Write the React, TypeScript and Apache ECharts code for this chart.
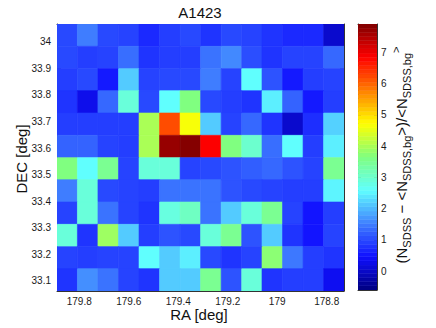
import React, { useEffect, useRef } from "react";
import * as echarts from "echarts";

// RA bin centres (deg), left to right in the plot (RA decreases to the right)
const raCenters = [179.849, 179.766, 179.683, 179.6, 179.517, 179.434, 179.351, 179.268, 179.185, 179.102, 179.02, 178.937, 178.854, 178.771];
// DEC bin centres (deg), top to bottom
const decCenters = [34.025, 33.941, 33.857, 33.774, 33.69, 33.606, 33.522, 33.439, 33.355, 33.271, 33.187, 33.104];

// (N_SDSS - <N_bg>)/<N_bg>, one row per DEC bin (top to bottom)
const overdensity: number[][] = [
  [1.0, 1.5, 1.0, 0.95, 0.7, 0.9, 1.0, 0.8, 1.0, 0.95, 0.8, 0.7, 0.7, 0.05],
  [1.0, 0.9, 0.95, 1.35, 0.8, 0.9, 0.9, 1.4, 1.6, 1.05, 0.8, 0.95, 0.95, 1.3],
  [0.9, 1.0, 0.55, 2.15, 0.95, 1.0, 1.0, 1.5, 0.95, 2.6, 1.1, 0.55, 0.9, 0.95],
  [0.8, 0.3, 1.3, 2.9, 1.0, 2.6, 3.65, 1.0, 0.9, 0.8, 2.45, 1.25, 0.55, 0.9],
  [0.9, 0.9, 0.9, 0.9, 4.0, 6.2, 4.65, 2.15, 0.95, 1.3, 0.8, 0.05, 0.75, 2.2],
  [1.25, 1.25, 0.95, 0.9, 4.0, 7.7, 7.85, 6.85, 3.65, 3.0, 1.35, 2.6, 0.9, 2.45],
  [3.65, 2.6, 3.5, 0.95, 2.9, 2.9, 0.95, 1.0, 1.1, 1.2, 1.3, 1.1, 0.95, 3.5],
  [1.5, 2.9, 1.0, 0.95, 0.9, 1.4, 1.4, 1.4, 1.1, 1.0, 0.95, 0.9, 0.9, 2.5],
  [0.95, 2.9, 1.4, 0.95, 0.8, 2.85, 3.1, 1.4, 2.15, 2.9, 3.5, 0.95, 0.5, 0.9],
  [2.9, 0.8, 3.9, 2.15, 0.9, 1.1, 1.0, 2.9, 3.5, 1.1, 2.15, 0.8, 0.5, 0.95],
  [0.95, 0.9, 0.95, 0.95, 2.6, 2.15, 2.45, 1.0, 0.8, 0.95, 3.75, 1.45, 0.9, 0.8],
  [0.8, 1.65, 1.4, 0.95, 0.8, 2.15, 2.15, 3.5, 1.1, 2.9, 0.8, 0.9, 0.9, 0.35],
];

// axis extents
const raRange = [178.73, 179.89];
const decRange = [33.062, 34.067];
const colorRange = [-0.6, 7.9];
const colorbarLevels = 64;

const jet = ["#00007f", "#1010ff", "#4080ff", "#60ffff", "#80ff80", "#ffff00", "#ff7f00", "#ff0000", "#7f0000"];

const FONT = "'Liberation Sans', Arial, Helvetica, sans-serif";
const AX = "#333333";

export default function App() {
  const ref = useRef<HTMLDivElement>(null);
  useEffect(() => {
    document.body.style.margin = "0";
    if (!ref.current) return;
    const chart = echarts.init(ref.current, undefined, { renderer: "svg" });

    const raHalf = Math.abs(raCenters[1] - raCenters[0]) / 2;
    const decHalf = Math.abs(decCenters[0] - decCenters[1]) / 2;
    const cells: number[][] = [];
    decCenters.forEach((dec, j) => {
      raCenters.forEach((ra, i) => {
        cells.push([ra, dec, overdensity[j][i]]);
      });
    });
    const cbStep = (colorRange[1] - colorRange[0]) / colorbarLevels;
    const cbData: number[][] = [];
    for (let k = 0; k < colorbarLevels; k++) {
      const c = colorRange[0] + (k + 0.5) * cbStep;
      cbData.push([0.5, c, c]);
    }

    const tickCommon = { show: true, inside: true, length: 4, lineStyle: { color: AX, width: 1 } };
    const lineCommon = { show: true, onZero: false, lineStyle: { color: AX, width: 1 } };
    const labelCommon = { fontSize: 10, color: "#1a1a1a", fontFamily: FONT };

    chart.setOption({
      animation: false,
      grid: [
        { left: 57, right: 92, top: 24, bottom: 37, containLabel: false },
        { left: 358, width: 19, top: 24, bottom: 38, containLabel: false },
      ],
      visualMap: {
        type: "continuous",
        show: false,
        min: colorRange[0],
        max: colorRange[1],
        dimension: 2,
        seriesIndex: [0, 1],
        inRange: { color: jet },
      },
      xAxis: [
        {
          gridIndex: 0, type: "value", position: "bottom", inverse: true,
          min: raRange[0], max: raRange[1], splitNumber: 6,
          axisLine: lineCommon, axisTick: tickCommon, splitLine: { show: false },
          axisLabel: { ...labelCommon, margin: 5, showMinLabel: false, showMaxLabel: false },
        },
        {
          gridIndex: 0, type: "value", position: "top", inverse: true,
          min: raRange[0], max: raRange[1], splitNumber: 6,
          axisLine: lineCommon, axisTick: tickCommon, splitLine: { show: false },
          axisLabel: { show: false },
        },
        {
          gridIndex: 1, type: "value", position: "bottom", min: 0, max: 1,
          axisLine: lineCommon, axisTick: { show: false }, splitLine: { show: false }, axisLabel: { show: false },
        },
        {
          gridIndex: 1, type: "value", position: "top", min: 0, max: 1,
          axisLine: lineCommon, axisTick: { show: false }, splitLine: { show: false }, axisLabel: { show: false },
        },
      ],
      yAxis: [
        {
          gridIndex: 0, type: "value", position: "left",
          min: decRange[0], max: decRange[1], splitNumber: 10,
          axisLine: lineCommon, axisTick: tickCommon, splitLine: { show: false },
          axisLabel: { ...labelCommon, margin: 6, showMinLabel: false, showMaxLabel: false },
        },
        {
          gridIndex: 0, type: "value", position: "right",
          min: decRange[0], max: decRange[1], splitNumber: 10,
          axisLine: lineCommon, axisTick: tickCommon, splitLine: { show: false },
          axisLabel: { show: false },
        },
        {
          gridIndex: 1, type: "value", position: "right",
          min: colorRange[0], max: colorRange[1], splitNumber: 8,
          axisLine: lineCommon, axisTick: { ...tickCommon, length: 3 }, splitLine: { show: false },
          axisLabel: { ...labelCommon, margin: 4, showMinLabel: false, showMaxLabel: false },
        },
        {
          gridIndex: 1, type: "value", position: "left",
          min: colorRange[0], max: colorRange[1], splitNumber: 8,
          axisLine: lineCommon, axisTick: { ...tickCommon, length: 3 }, splitLine: { show: false },
          axisLabel: { show: false },
        },
      ],
      series: [
        {
          type: "custom",
          xAxisIndex: 0,
          yAxisIndex: 0,
          clip: true,
          z: 1,
          data: cells,
          renderItem: (params: any, api: any) => {
            const ra = api.value(0);
            const dec = api.value(1);
            const p1 = api.coord([ra + raHalf, dec + decHalf]);
            const p2 = api.coord([ra - raHalf, dec - decHalf]);
            const color = api.visual("color");
            return {
              type: "rect",
              shape: {
                x: Math.min(p1[0], p2[0]),
                y: Math.min(p1[1], p2[1]),
                width: Math.abs(p2[0] - p1[0]),
                height: Math.abs(p2[1] - p1[1]),
              },
              style: { fill: color, stroke: color, lineWidth: 0.6 },
            };
          },
        },
        {
          type: "custom",
          xAxisIndex: 2,
          yAxisIndex: 2,
          clip: true,
          z: 1,
          data: cbData,
          renderItem: (params: any, api: any) => {
            const c = api.value(1);
            const p1 = api.coord([0, c - cbStep / 2]);
            const p2 = api.coord([1, c + cbStep / 2]);
            const color = api.visual("color");
            return {
              type: "rect",
              shape: {
                x: Math.min(p1[0], p2[0]),
                y: Math.min(p1[1], p2[1]),
                width: Math.abs(p2[0] - p1[0]),
                height: Math.abs(p2[1] - p1[1]),
              },
              style: { fill: color, stroke: color, lineWidth: 0.5 },
            };
          },
        },
      ],
      graphic: [
        {
          type: "text", x: 200, y: 12,
          style: { text: "A1423", fontSize: 15, fontFamily: FONT, fill: "#111", align: "center", verticalAlign: "middle" },
        },
        {
          type: "text", x: 199, y: 314,
          style: { text: "RA [deg]", fontSize: 15, fontFamily: FONT, fill: "#111", align: "center", verticalAlign: "middle" },
        },
        {
          type: "text", x: 21, y: 159, rotation: Math.PI / 2,
          style: { text: "DEC [deg]", fontSize: 15, fontFamily: FONT, fill: "#111", align: "center", verticalAlign: "middle" },
        },
        {
          type: "text", x: 401, y: 155, rotation: Math.PI / 2,
          style: {
            text: "{m|(N}{s|SDSS}{m| − <N}{s|SDSS,bg}{m|>)/<N}{s|SDSS,bg}{p|>}",
            align: "center",
            verticalAlign: "middle",
            fill: "#111",
            fontFamily: FONT,
            rich: {
              m: { fontSize: 15, lineHeight: 22, fontFamily: FONT, fill: "#111" },
              s: { fontSize: 11, lineHeight: 12, verticalAlign: "bottom", fontFamily: FONT, fill: "#111" },
              p: { fontSize: 11, lineHeight: 12, verticalAlign: "top", fontFamily: FONT, fill: "#111" },
            },
          },
        },
      ],
    });
    return () => chart.dispose();
  }, []);
  return <div ref={ref} style={{ width: 436, height: 328 }} />;
}
